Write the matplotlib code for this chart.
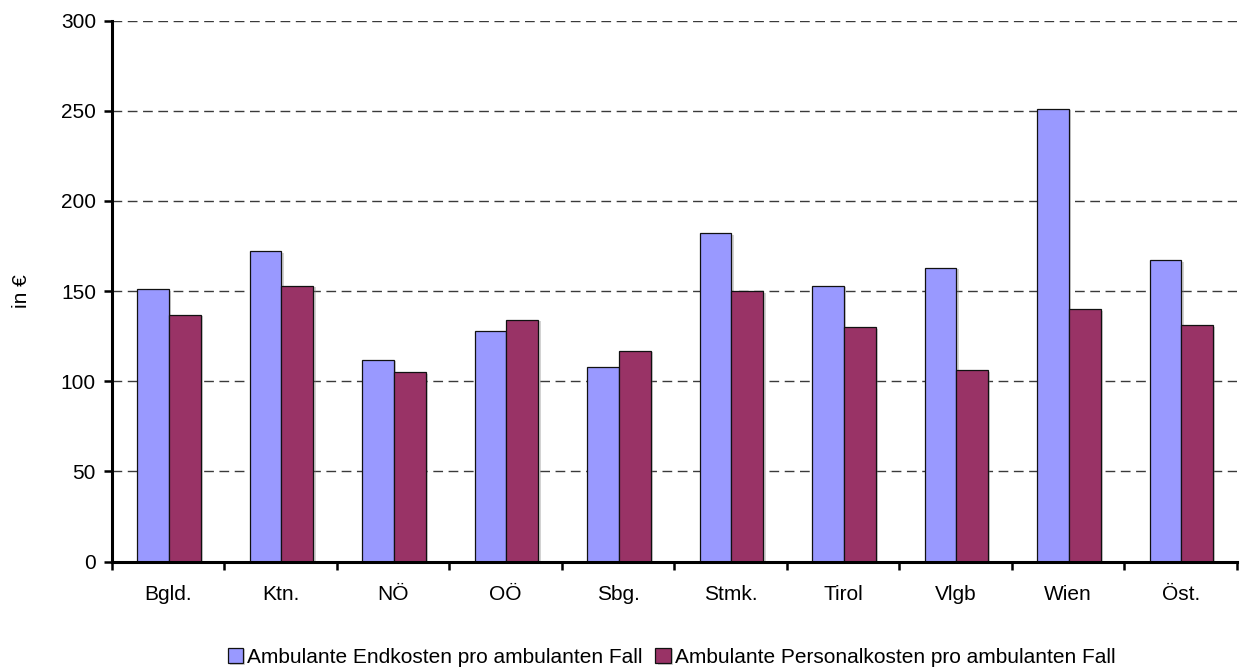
import matplotlib.pyplot as plt
import matplotlib.patheffects as pe
import numpy as np

plt.rcParams['font.family'] = ['Liberation Sans', 'DejaVu Sans']

regions = ['Bgld.', 'Ktn.', 'NÖ', 'OÖ', 'Sbg.', 'Stmk.', 'Tirol', 'Vlgb', 'Wien', 'Öst.']
endkosten = [151, 172, 112, 128, 108, 182, 153, 163, 251, 167]
personalkosten = [137, 153, 105, 134, 117, 150, 130, 106, 140, 131]
series_labels = ['Ambulante Endkosten pro ambulanten Fall',
                 'Ambulante Personalkosten pro ambulanten Fall']

fs = 15

fig = plt.figure(figsize=(12.44, 6.68), dpi=100)
ax = fig.add_axes([0.090, 0.1594, 0.9043, 0.8096])

x = np.arange(len(regions))
w = 0.284
shadow = [pe.SimplePatchShadow(offset=(1.5, -1.0), shadow_rgbFace='#808080', alpha=0.35),
          pe.Normal()]
b1 = ax.bar(x - w / 2 + 0.007, endkosten, w, color='#9999FF', edgecolor='#111111',
            linewidth=0.9, label=series_labels[0], zorder=3)
b2 = ax.bar(x + w / 2 + 0.007, personalkosten, w, color='#993366', edgecolor='#111111',
            linewidth=0.9, label=series_labels[1], zorder=3)
for r in list(b1) + list(b2):
    r.set_path_effects(shadow)

ax.set_xlim(-0.5, len(regions) - 0.5)
ax.set_ylim(0, 300)
ax.set_yticks(np.arange(0, 301, 50))
ax.set_xticks(x)
ax.set_xticklabels(regions, fontsize=fs)
ax.set_xticks(np.arange(-0.5, len(regions)), minor=True)
ax.tick_params(axis='x', which='major', length=0, pad=17)
ax.tick_params(axis='x', which='minor', length=5.5, width=1.8, direction='out')
ax.tick_params(axis='y', length=5.5, width=1.8, labelsize=fs, pad=6)

ax.yaxis.grid(True, linestyle=(0, (7, 4)), color='#3a3a3a', linewidth=1.0, zorder=0)
ax.set_axisbelow(True)

for s in ['top', 'right']:
    ax.spines[s].set_visible(False)
for s in ['left', 'bottom']:
    ax.spines[s].set_linewidth(2.2)
    ax.spines[s].set_zorder(4)

ax.set_ylabel('in €', fontsize=fs)
ax.yaxis.set_label_coords(-0.072, 0.5)

fig.legend(loc='center', bbox_to_anchor=(0.54, 0.016), ncol=2, frameon=False,
           fontsize=fs, handlelength=0.75, handleheight=0.75, handletextpad=0.2,
           columnspacing=0.6, borderpad=0)

plt.savefig('out.png', dpi=100)
